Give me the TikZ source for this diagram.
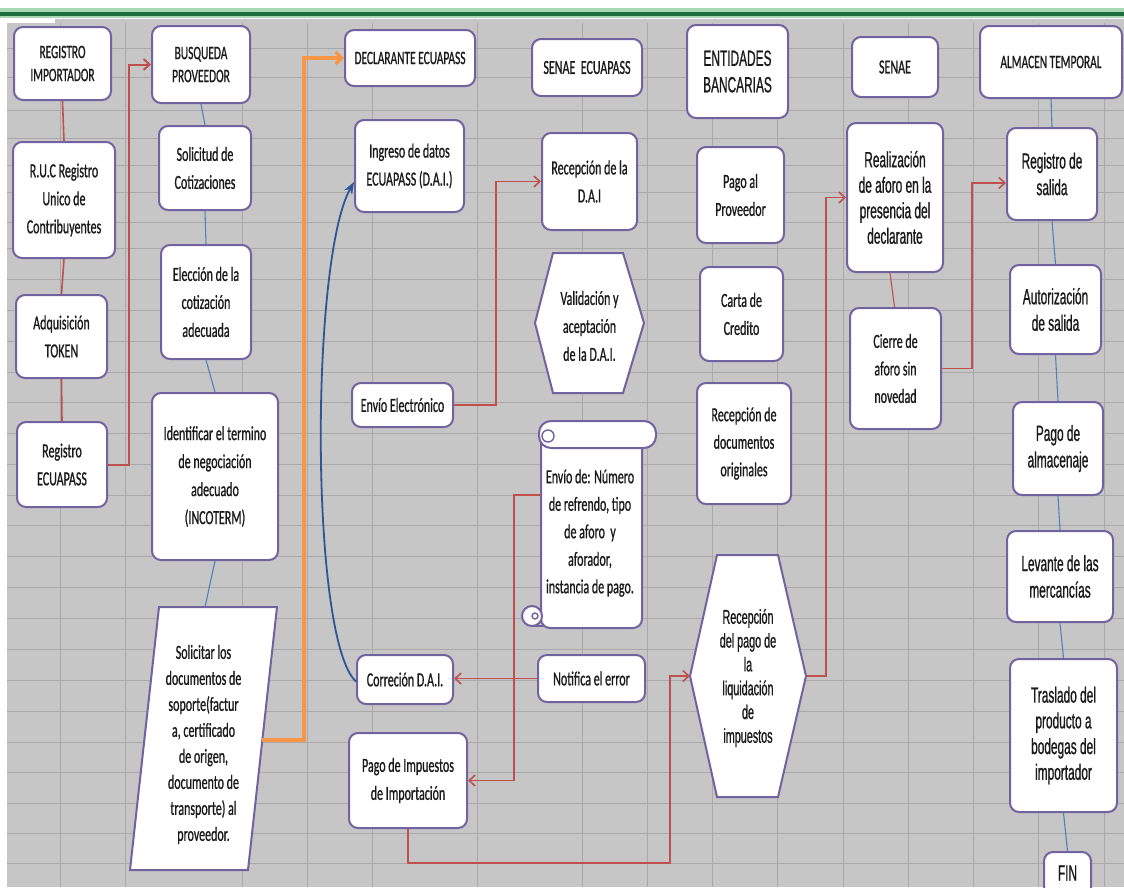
\documentclass[tikz,border=0pt]{standalone}
\usepackage{fontspec}
\usetikzlibrary{arrows.meta}
\newfontfamily\calfont[FakeStretch=0.6,FakeBold=0.8]{Carlito}
\newfontfamily\arifont[FakeStretch=0.54,FakeBold=0.8]{Liberation Sans}
\definecolor{bgray}{HTML}{C6C6C6}
\definecolor{gridc}{HTML}{A9A9A9}
\definecolor{boxc}{HTML}{7262A0}
\definecolor{redc}{HTML}{C0504D}
\definecolor{bluec}{HTML}{4F81BD}
\definecolor{orangec}{HTML}{F79646}
\definecolor{dblue}{HTML}{2E5595}
\definecolor{txt}{HTML}{1A1A1A}
\definecolor{gdark}{HTML}{1E6E3C}
\definecolor{glight}{HTML}{A8D8B4}
\begin{document}
\begin{tikzpicture}[x=1pt,y=-1pt,
  box/.style={draw=boxc, line width=2pt, fill=white, rounded corners=9pt, align=center, inner sep=0pt, text=txt, font=\calfont\fontsize{20}{28}\selectfont},
  abox/.style={box, font=\arifont\fontsize{22}{26.5}\selectfont},
  shp/.style={draw=boxc, line width=2pt, fill=white},
  txtn/.style={align=center, inner sep=0pt, text=txt, font=\calfont\fontsize{20}{28}\selectfont},
  redl/.style={draw=redc, line width=1.6pt},
  reda/.style={redl, -{Straight Barb[length=6pt,width=11pt]}},
  bluel/.style={draw=bluec, line width=1.1pt},
  orangea/.style={draw=orangec, line width=3.2pt, -{Straight Barb[length=6pt,width=12pt]}},
]
\clip (0,0) rectangle (1124,887);
% background sheet
\fill[white] (0,0) rectangle (1124,887);
\fill[bgray] (7,19) rectangle (1124,887);
\fill[white] (0,17) rectangle (55,23);
\fill[glight] (0,8) rectangle (1124,17.5);
\fill[gdark] (0,11.5) rectangle (1124,15.5);
\foreach \x in {60,125,242,307,372,477,582,647,712,777,843,908,973,1038,1104}
  \draw[gridc, line width=1pt] (\x,23) -- (\x,887);
\foreach \y in {48,77,110,138,165,192,222,248,279,310,341,372,402,433,464,495,525,556,587,618,649,680,711,742,772,803,833,863}
  \draw[gridc, line width=1pt] (7,\y) -- (1124,\y);

% column 1
\node[box, minimum width=97pt, minimum height=73pt, font=\calfont\fontsize{19}{23}\selectfont] (regimp) at (62.5,63.5) {REGISTRO\\IMPORTADOR};
\node[box, minimum width=102pt, minimum height=116pt] (ruc) at (64,200) {R.U.C Registro\\Unico de\\Contribuyentes};
\node[box, minimum width=91pt, minimum height=83pt] (token) at (61.5,336.5) {Adquisición\\TOKEN};
\node[box, minimum width=90pt, minimum height=85pt] (regecu) at (62,464.5) {Registro\\ECUAPASS};

% column 2
\node[box, minimum width=98pt, minimum height=77pt, font=\calfont\fontsize{19}{23}\selectfont] (busq) at (201,64.5) {BUSQUEDA\\PROVEEDOR};
\node[box, minimum width=92pt, minimum height=84pt] (solic) at (205,168) {Solicitud de\\Cotizaciones};
\node[box, minimum width=90pt, minimum height=114pt] (elec) at (206,302) {Elección de la\\cotización\\adecuada};
\node[box, minimum width=126pt, minimum height=167pt] (ident) at (215,476.5) {Identificar el termino\\de negociación\\adecuado\\(INCOTERM)};
\draw[shp] (159,607) -- (277,607) -- (248,870) -- (130,870) -- cycle;
\coordinate (solT) at (205,607);
\coordinate (solR) at (262.3,740);
\node[txtn, font=\calfont\fontsize{20}{26}\selectfont] (solicitar) at (203.5,744.5) {Solicitar los\\documentos de\\soporte(factur\\a, certificado\\de origen,\\documento de\\transporte) al\\proveedor.};

% column 3
\node[box, minimum width=130pt, minimum height=56pt, font=\calfont\fontsize{19}{23}\selectfont] (declar) at (410,58) {DECLARANTE ECUAPASS};
\node[box, minimum width=109pt, minimum height=92pt] (ingreso) at (409.5,166) {Ingreso de datos\\ECUAPASS (D.A.I.)};
\node[box, minimum width=101pt, minimum height=44pt] (envio) at (402.5,405) {Envío Electrónico};
\node[box, minimum width=96pt, minimum height=49pt] (correc) at (405,679.5) {Correción D.A.I.};
\node[box, minimum width=118pt, minimum height=95pt] (pagoimp) at (408,780.5) {Pago de Impuestos\\de Importación};

% column 4
\node[box, minimum width=110pt, minimum height=57pt] (senaeecu) at (587,67.5) {SENAE~ ECUAPASS};
\node[box, minimum width=95pt, minimum height=97pt] (recdai) at (589.5,181.5) {Recepción de la\\D.A.I};
\draw[shp] (535,323) -- (553,253) -- (623,253) -- (644,323) -- (623,393) -- (553,393) -- cycle;
\node[txtn] (valid) at (589.5,326) {Validación y\\aceptación\\de la D.A.I.};
% scroll
\draw[shp, rounded corners=9pt] (541,440) -- (541,628) -- (642,628) -- (642,440);
\draw[shp] (532,616) circle (10pt);
\draw[draw=boxc, line width=1.4pt] (532,626) -- (545,626);
\draw[draw=boxc, line width=1.4pt] (535,616) circle (3pt);
\draw[shp, rounded corners=12pt] (539,421) rectangle (656,448);
\draw[draw=boxc, line width=1.4pt] (548,436) circle (6pt);
\coordinate (scrollL) at (541,495);
\node[txtn, font=\calfont\fontsize{20}{27.5}\selectfont] (scroll) at (590,533) {Envío de: Número\\de refrendo, tipo\\de aforo~ y\\aforador,\\instancia de pago.};
\node[box, minimum width=107pt, minimum height=47pt] (notif) at (591.5,678.5) {Notifica el error};

% column 5
\node[abox, minimum width=101pt, minimum height=93pt] (entid) at (737.5,71.5) {ENTIDADES\\BANCARIAS};
\node[box, minimum width=87pt, minimum height=96pt] (pagoprov) at (740.5,195) {Pago al\\Proveedor};
\node[box, minimum width=83pt, minimum height=94pt] (carta) at (741.5,314) {Carta de\\Credito};
\node[box, minimum width=94pt, minimum height=121pt, font=\calfont\fontsize{20}{27.5}\selectfont] (recdoc) at (744,443.5) {Recepción de\\documentos\\originales};
\draw[shp] (690,676) -- (717,555) -- (778,555) -- (806,676) -- (778,797) -- (717,797) -- cycle;
\coordinate (rpL) at (690,676);
\coordinate (rpR) at (806,676);
\node[txtn, font=\arifont\fontsize{20}{23.8}\selectfont] (recpago) at (748,678) {Recepción\\del pago de\\la\\liquidación\\de\\impuestos};

% column 6
\node[box, minimum width=86pt, minimum height=60pt] (senae) at (895,67) {SENAE};
\node[abox, minimum width=96pt, minimum height=149pt, font=\arifont\fontsize{22}{25.5}\selectfont] (realiz) at (895,197.5) {Realización\\de aforo en la\\presencia del\\declarante};
\node[box, minimum width=91pt, minimum height=121pt, font=\calfont\fontsize{20}{27.5}\selectfont] (cierre) at (895.5,368.5) {Cierre de\\aforo sin\\novedad};

% column 7
\node[box, minimum width=142pt, minimum height=72pt, font=\calfont\fontsize{19}{23}\selectfont] (almacen) at (1051,62) {ALMACEN TEMPORAL};
\node[abox, minimum width=90pt, minimum height=92pt] (regsal) at (1052,174) {Registro de\\salida};
\node[abox, minimum width=91pt, minimum height=89pt] (autor) at (1055.5,309.5) {Autorización\\de salida};
\node[abox, minimum width=90pt, minimum height=93pt] (pagoalm) at (1058,448.5) {Pago de\\almacenaje};
\node[abox, minimum width=106pt, minimum height=91pt] (levante) at (1060,576.5) {Levante de las\\mercancías};
\node[abox, minimum width=107pt, minimum height=153pt, font=\arifont\fontsize{22}{25.7}\selectfont] (traslado) at (1063.5,735.5) {Traslado del\\producto a\\bodegas del\\importador};
\node[abox, minimum width=47pt, minimum height=48pt] (fin) at (1067.5,876) {\raisebox{6pt}{FIN}};

% connectors column 1
\draw[redl] (regimp.south) -- (ruc.north);
\draw[redl] (ruc.south) -- (token.north);
\draw[redl] (token.south) -- (regecu.north);
\draw[reda, line width=2pt] (regecu.east) -- ++(21,0) |- (busq.west);
% column 2
\draw[bluel] (busq.south) -- (solic.north);
\draw[bluel] (solic.south) -- (elec.north);
\draw[bluel] (elec.south) -- (ident.north);
\draw[bluel] (ident.south) -- (solT);
\draw[orangea] (solR) -| ([xshift=-40pt]declar.west) -- (declar.west);
% column 3 / 4
\draw[dblue, line width=1.8pt, -{Stealth[length=12pt,width=9pt]}] ([yshift=-2pt]correc.west) .. controls (310,640) and (310,260) .. ([yshift=-16pt]ingreso.west);
\draw[reda] (envio.east) -| ([xshift=-45pt]recdai.west) -- (recdai.west);
\draw[reda] (notif.west) -- (notif.west -| correc.east);
\draw[reda] (scrollL) -- ++(-27,0) |- (pagoimp.east);
\draw[reda] (pagoimp.south) -- ++(0,34) -| ([xshift=-20pt]rpL) -- (rpL);
% column 5 / 6
\draw[reda] (rpR) -| ([xshift=-20pt]realiz.west) -- (realiz.west);
\draw[redl, line width=1.1pt] ([xshift=-5pt]realiz.south) -- ([xshift=-1pt]cierre.north);
\draw[reda] (cierre.east) -| ([xshift=-34pt,yshift=-9pt]regsal.west) -- ([yshift=-9pt]regsal.west);
% column 7
\draw[bluel] (almacen.south) -- (regsal.north);
\draw[bluel] (regsal.south) -- (autor.north);
\draw[bluel] (autor.south) -- (pagoalm.north);
\draw[bluel] (pagoalm.south) -- (levante.north);
\draw[bluel] (levante.south) -- (traslado.north);
\draw[bluel] (traslado.south) -- (fin.north);
\end{tikzpicture}
\end{document}
